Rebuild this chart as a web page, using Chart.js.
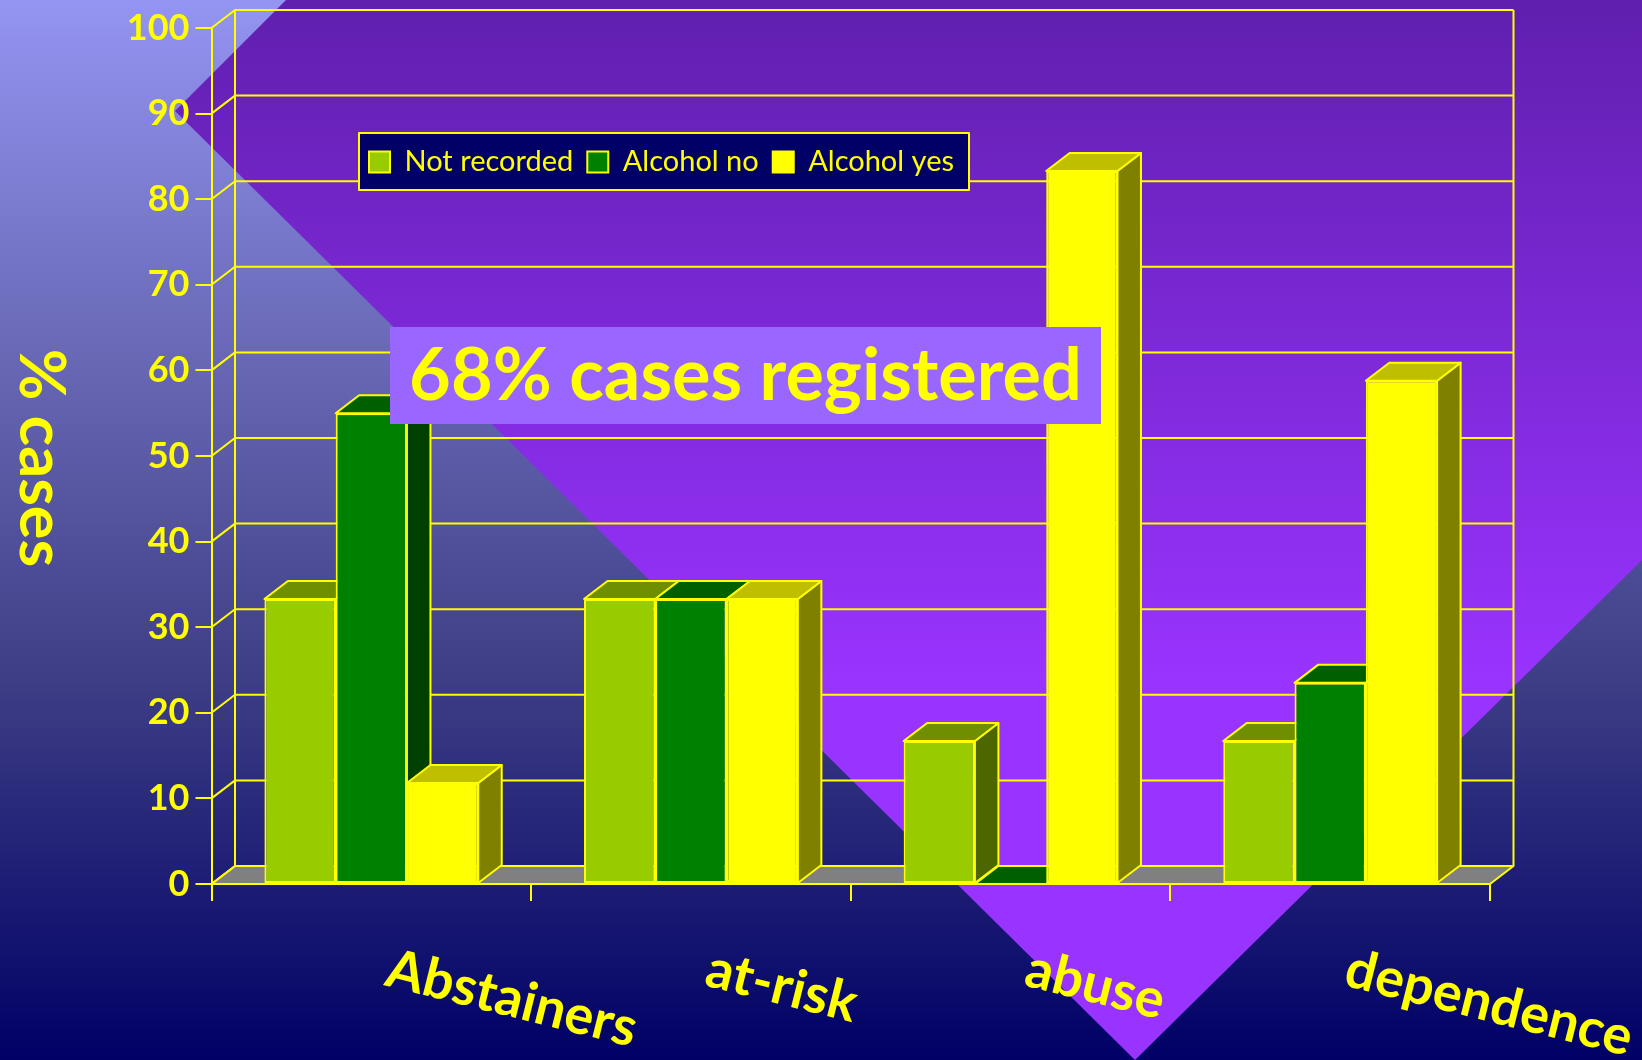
<!DOCTYPE html>
<html>
<head>
<meta charset="utf-8">
<style>html,body{margin:0;padding:0;background:#000066}canvas{display:block}</style>
<script src="https://cdn.jsdelivr.net/npm/chart.js@4"></script>
</head>
<body>
<canvas id="c" width="1642" height="1060"></canvas>
<script>
const categories = ['Abstainers', 'at-risk', 'abuse', 'dependence'];
const notRecorded = [33.3, 33.3, 16.7, 16.7];
const alcoholNo = [55, 33.3, 0, 23.5];
const alcoholYes = [11.8, 33.3, 83.3, 58.8];
const yTitle = '% cases';
const noteText = '68% cases registered';
const FONT = "'Comic Sans MS','Lato','Open Sans',sans-serif";
const YEL = '#ffff00';
const DX = 23.5, DY = -18;
const shades = {
  '#99cc00': {top: '#708f00', side: '#4d6600'},
  '#008000': {top: '#006000', side: '#004000'},
  '#ffff00': {top: '#bfbf00', side: '#808000'}
};

function poly(ctx, pts, fill, stroke, lw) {
  ctx.beginPath();
  pts.forEach((p, i) => i ? ctx.lineTo(p[0], p[1]) : ctx.moveTo(p[0], p[1]));
  ctx.closePath();
  if (fill) { ctx.fillStyle = fill; ctx.fill(); }
  if (stroke) { ctx.strokeStyle = stroke; ctx.lineWidth = lw; ctx.lineJoin = 'round'; ctx.stroke(); }
}

const scene = {
  id: 'scene',
  beforeDraw(chart) {
    const ctx = chart.ctx, W = chart.width, H = chart.height;
    const a = chart.chartArea, y = chart.scales.y;
    ctx.save();
    let g = ctx.createLinearGradient(0, 0, 0, H);
    g.addColorStop(0, '#9494f2'); g.addColorStop(0.32, '#6a6ab8');
    g.addColorStop(0.64, '#3e3e86'); g.addColorStop(1, '#000066');
    ctx.fillStyle = g; ctx.fillRect(0, 0, W, H);
    g = ctx.createLinearGradient(0, 0, 0, 680);
    g.addColorStop(0, '#601fae'); g.addColorStop(1, '#9933ff');
    poly(ctx, [[175, 111], [286, 0], [W, 0], [W, 560], [1135, H]], g);

    // floor and back wall
    const y0 = y.getPixelForValue(0), y100 = y.getPixelForValue(100);
    poly(ctx, [[a.left, y0], [a.right, y0], [a.right + DX, y0 + DY], [a.left + DX, y0 + DY]], '#808080', YEL, 2);
    ctx.strokeStyle = YEL; ctx.lineWidth = 2;
    ctx.beginPath();
    y.ticks.forEach(t => {
      const p = y.getPixelForValue(t.value);
      ctx.moveTo(a.left, p); ctx.lineTo(a.left + DX, p + DY); ctx.lineTo(a.right + DX, p + DY);
    });
    ctx.moveTo(a.left + DX, y100 + DY); ctx.lineTo(a.left + DX, y0 + DY);
    ctx.moveTo(a.right + DX, y100 + DY); ctx.lineTo(a.right + DX, y0 + DY);
    ctx.stroke();

    // legend panel
    ctx.fillStyle = '#000066'; ctx.fillRect(359, 133, 610, 57);
    ctx.strokeStyle = YEL; ctx.lineWidth = 2; ctx.strokeRect(359, 133, 610, 57);
    ctx.restore();

    const lg = chart.legend;
    lg.left = 355; lg.right = 1500; lg.top = 133.5; lg.bottom = 190;

    // x labels start at the category centre and run downhill
    chart.scales.x.getLabelItems(a).forEach((it, i) => {
      it.textOffset = 0;
      it.options.textAlign = 'left';
      it.options.textBaseline = 'alphabetic';
      it.options.translation = [chart.scales.x.getPixelForValue(i) + 12, 985];
    });
  },
  beforeDatasetsDraw(chart) {
    // depth faces of every bar, left to right, behind all front faces
    const ctx = chart.ctx;
    ctx.save();
    chart.data.datasets.forEach((d, i) => {
      const col = shades[d.backgroundColor];
      chart.getDatasetMeta(i).data.forEach(b => {
        const {x, y, base, width} = b.getProps(['x', 'y', 'base', 'width'], true);
        const l = x - width / 2, r = x + width / 2;
        poly(ctx, [[r, y], [r + DX, y + DY], [r + DX, base + DY], [r, base]], col.side, YEL, 2);
        poly(ctx, [[l, y], [r, y], [r + DX, y + DY], [l + DX, y + DY]], col.top, YEL, 2);
      });
    });
    ctx.restore();
  },
  afterDatasetsDraw(chart) {
    const ctx = chart.ctx;
    ctx.save();
    ctx.fillStyle = '#9966ff'; ctx.fillRect(390, 327, 711, 97);
    ctx.fillStyle = YEL; ctx.textAlign = 'center'; ctx.textBaseline = 'alphabetic';
    ctx.font = 'bold 72px ' + FONT;
    ctx.fillText(noteText, 745.5, 400);
    ctx.translate(40, 458); ctx.rotate(Math.PI / 2);
    ctx.textBaseline = 'middle'; ctx.font = 'bold 63px ' + FONT;
    ctx.fillText(yTitle, 0, 0);
    ctx.restore();
  }
};

function ds(label, data, color) {
  return {label, data, backgroundColor: color, borderColor: YEL, borderWidth: 2,
          borderSkipped: false, categoryPercentage: 0.669, barPercentage: 1, clip: false};
}

new Chart(document.getElementById('c'), {
  type: 'bar',
  data: {
    labels: categories,
    datasets: [
      ds('Not recorded', notRecorded, '#99cc00'),
      ds('Alcohol no', alcoholNo, '#008000'),
      ds('Alcohol yes', alcoholYes, '#ffff00')
    ]
  },
  plugins: [scene],
  options: {
    responsive: false,
    animation: false,
    devicePixelRatio: 1,
    layout: {padding: {left: 0, top: 0, right: 152, bottom: 0}},
    plugins: {
      tooltip: {enabled: false},
      legend: {
        position: 'top', align: 'start', maxHeight: 28,
        labels: {
          boxWidth: 21, boxHeight: 21, padding: 14, color: YEL,
          font: {family: FONT, size: 29}
        }
      }
    },
    scales: {
      x: {
        afterFit(s) { s.height = 176; s.paddingLeft = 0; s.paddingRight = 0; },
        grid: {drawOnChartArea: false, color: YEL, lineWidth: 2, tickLength: 17},
        border: {color: YEL, width: 2},
        ticks: {color: YEL, minRotation: -14, maxRotation: -14, font: {family: FONT, size: 54, weight: 'bold'}}
      },
      y: {
        min: 0, max: 100,
        afterFit(s) { s.width = 211.5; },
        grid: {drawOnChartArea: false, color: YEL, lineWidth: 2, tickLength: 16},
        border: {color: YEL, width: 2},
        ticks: {stepSize: 10, color: YEL, padding: 6, font: {family: FONT, size: 36, weight: 'bold'}}
      }
    }
  }
});
</script>
</body>
</html>
